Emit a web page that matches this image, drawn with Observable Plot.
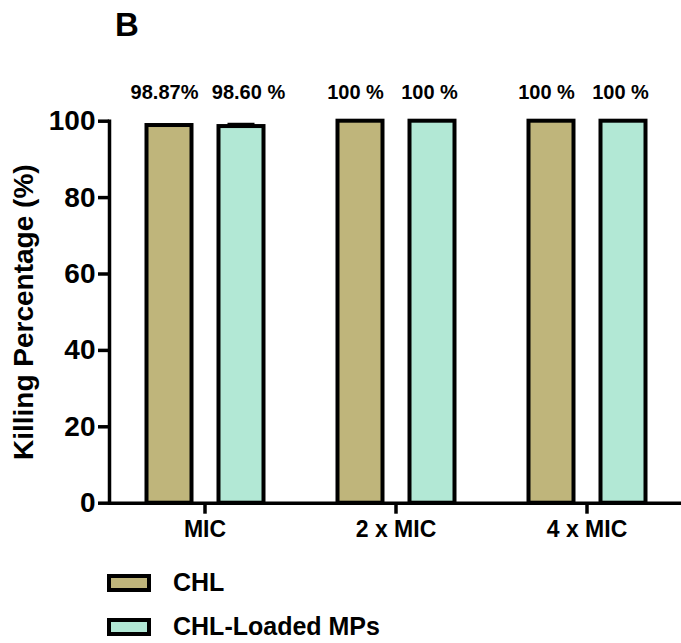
<!DOCTYPE html>
<html>
<head>
<meta charset="utf-8">
<script src="https://cdn.jsdelivr.net/npm/d3@7"></script>
<script src="https://cdn.jsdelivr.net/npm/@observablehq/plot@0.6"></script>
<style>
  html, body { margin: 0; padding: 0; background: #fff; }
  #fig { position: relative; width: 681px; height: 643px; overflow: hidden;
         font-family: "Liberation Sans", Arial, sans-serif; font-weight: bold; color: #000; }
  #chart { position: absolute; left: 0; top: 0; }
  #panel { position: absolute; left: 115px; top: 8px; font-size: 33px; line-height: 1; }
  .leg { position: absolute; left: 107px; display: flex; align-items: center; font-size: 25px; line-height: 1; }
  .sw { width: 36px; height: 10px; border: 4px solid #000; margin-right: 22px; }
</style>
</head>
<body>
<div id="fig">
  <div id="chart"></div>
  <div id="panel">B</div>
  <div id="legend"></div>
</div>
<script>
const groups = ["MIC", "2 x MIC", "4 x MIC"];
const series = ["CHL", "CHL-Loaded MPs"];
const chlValues = [98.87, 100, 100];
const mpValues = [98.60, 100, 100];
const mpErrors = [0.6, 0, 0];
const chlLabels = ["98.87%", "100 %", "100 %"];
const mpLabels = ["98.60 %", "100 %", "100 %"];
const colors = ["#bfb57b", "#b2e8d5"];
const yTicks = [0, 20, 40, 60, 80, 100];
const yLabel = "Killing Percentage (%)";

const data = [];
groups.forEach((g, i) => {
  data.push({group: g, series: series[0], value: chlValues[i], err: 0, label: chlLabels[i]});
  data.push({group: g, series: series[1], value: mpValues[i], err: mpErrors[i], label: mpLabels[i]});
});
const errData = data.filter(d => d.err > 0);
const chlData = data.filter(d => d.series === series[0]);
const mpFirst = data.filter(d => d.series === series[1] && d.group === groups[0]);
const mpRest = data.filter(d => d.series === series[1] && d.group !== groups[0]);

const ML = 108.5;
const labelOpts = {fx: "group", x: "series", text: "label", frameAnchor: "top", dy: -22, lineAnchor: "bottom", fontSize: 20, fontWeight: "bold", fill: "black"};
const chart = Plot.plot({
  width: 681,
  height: 560,
  marginTop: 120.7,
  marginBottom: 57.3,
  marginLeft: ML,
  marginRight: 0,
  style: {fontFamily: "'Liberation Sans', Arial, sans-serif", fontWeight: "bold", background: "white", color: "black", overflow: "visible"},
  fx: {domain: groups, range: [ML, 683], padding: 0, label: null},
  x: {domain: series, range: [ML + 10.25, ML + 181.25], padding: 0.375, axis: null},
  y: {domain: [0, 100], label: null},
  color: {domain: series, range: colors},
  marks: [
    Plot.barY(data, {fx: "group", x: "series", y: "value", fill: "series", stroke: "black", strokeWidth: 4}),
    Plot.ruleX(errData, {fx: "group", x: "series", y1: "value", y2: d => d.value + d.err, stroke: "black", strokeWidth: 3}),
    Plot.tickY(errData, {fx: "group", x: "series", y: d => d.value + d.err, stroke: "black", strokeWidth: 3, insetLeft: 9, insetRight: 9}),
    Plot.text(chlData, {...labelOpts, dx: -5}),
    Plot.text(mpFirst, {...labelOpts, dx: 7}),
    Plot.text(mpRest, {...labelOpts, dx: -3}),
    Plot.ruleY([0], {stroke: "black", strokeWidth: 3.5}),
    Plot.frame({anchor: "left", facetAnchor: "left", stroke: "black", strokeWidth: 3.5}),
    Plot.axisY({ticks: yTicks, tickSize: 11, tickPadding: 3, fontSize: 28, strokeWidth: 3.5,
                label: yLabel, labelAnchor: "center", labelOffset: 96, labelArrow: "none"}),
    Plot.axisFx({anchor: "bottom", tickSize: 11, tickPadding: 6, fontSize: 23, strokeWidth: 3.5, label: null})
  ]
});
document.getElementById("chart").appendChild(chart);

const legend = document.getElementById("legend");
series.forEach((s, i) => {
  const row = document.createElement("div");
  row.className = "leg";
  row.style.top = (i === 0 ? 570 : 614) + "px";
  const sw = document.createElement("div");
  sw.className = "sw";
  sw.style.background = colors[i];
  const t = document.createElement("span");
  t.textContent = s;
  row.appendChild(sw);
  row.appendChild(t);
  legend.appendChild(row);
});
</script>
</body>
</html>
